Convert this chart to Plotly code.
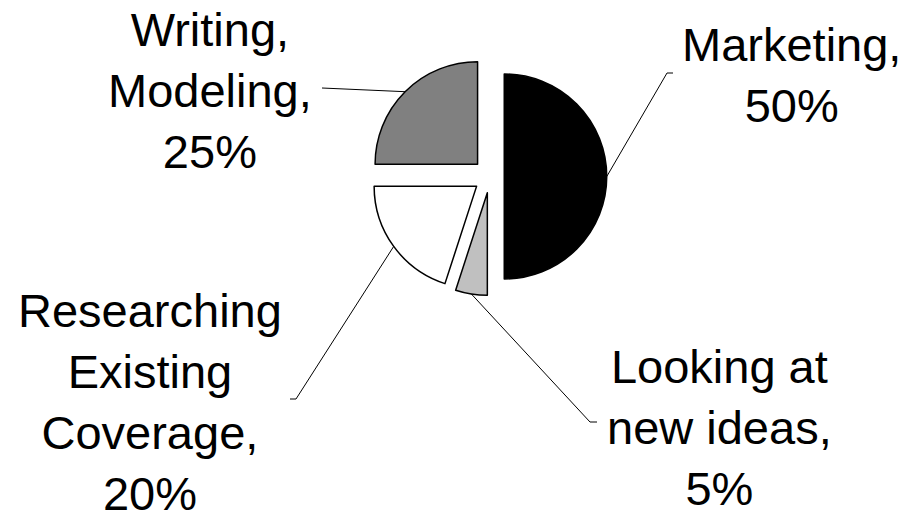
import math
import plotly.graph_objects as go

# ---- data ----
categories = ["Marketing", "Looking at new ideas", "Researching Existing Coverage", "Writing, Modeling"]
values = [50, 5, 20, 25]
label_lines = ["Marketing,<br>50%", "Looking at<br>new ideas,<br>5%",
               "Researching<br>Existing<br>Coverage,<br>20%", "Writing,<br>Modeling,<br>25%"]
colors = ["#000000", "#C0C0C0", "#FFFFFF", "#808080"]
pulls = [0.14, 0.16, 0.16, 0.17]

# ---- layout geometry (pixels in the screenshot) ----
W, H = 907, 513
OFF = 8                        # page body margin in the browser
CX, CY = 489.9, 176.5          # pie centre
R = 102.5                      # pie radius
half = R * (1 + max(pulls))    # half of pie box

# label centres and leader tails (pixels)
label_pos = [(791, 75), (719, 427), (149.5, 402), (210, 90)]
leader_tail = [((667, 73), (673, 73)), ((590, 422), (597, 422)),
               ((296, 399), (290, 399)), ((322, 88), (322, 88))]


def px(x):
    return (x - OFF) / W


def py(y):
    return 1 - (y - OFF) / H


fig = go.Figure(go.Pie(
    labels=categories, values=values, sort=False, direction="clockwise", rotation=0,
    pull=pulls, textinfo="none", hoverinfo="label+percent",
    marker=dict(colors=colors, line=dict(color="#000000", width=1.5)),
    domain=dict(x=[px(CX - half), px(CX + half)], y=[py(CY + half), py(CY - half)]),
))

total = sum(values)
annotations = []
shapes = []
cum = 0
for i, v in enumerate(values):
    theta = 2 * math.pi * (cum + v / 2) / total
    cum += v
    d = R * (1 + pulls[i])
    hx = CX + d * math.sin(theta)
    hy = CY - d * math.cos(theta)
    (tx, ty), (kx, ky) = leader_tail[i]
    shapes.append(dict(
        type="path", xref="paper", yref="paper",
        path=f"M {px(hx)},{py(hy)} L {px(tx)},{py(ty)} L {px(kx)},{py(ky)}",
        line=dict(color="#000000", width=1),
    ))
    lx, ly = label_pos[i]
    annotations.append(dict(
        text=label_lines[i], x=px(lx), y=py(ly), xref="paper", yref="paper",
        xanchor="center", yanchor="middle", showarrow=False, align="center",
        font=dict(family="Liberation Sans, Arial, sans-serif", size=47, color="#000000"),
    ))

fig.update_layout(
    width=W, height=H, margin=dict(l=0, r=0, t=0, b=0),
    paper_bgcolor="#FFFFFF", plot_bgcolor="#FFFFFF", showlegend=False,
    annotations=annotations, shapes=shapes,
)

fig.write_html("out.html")
